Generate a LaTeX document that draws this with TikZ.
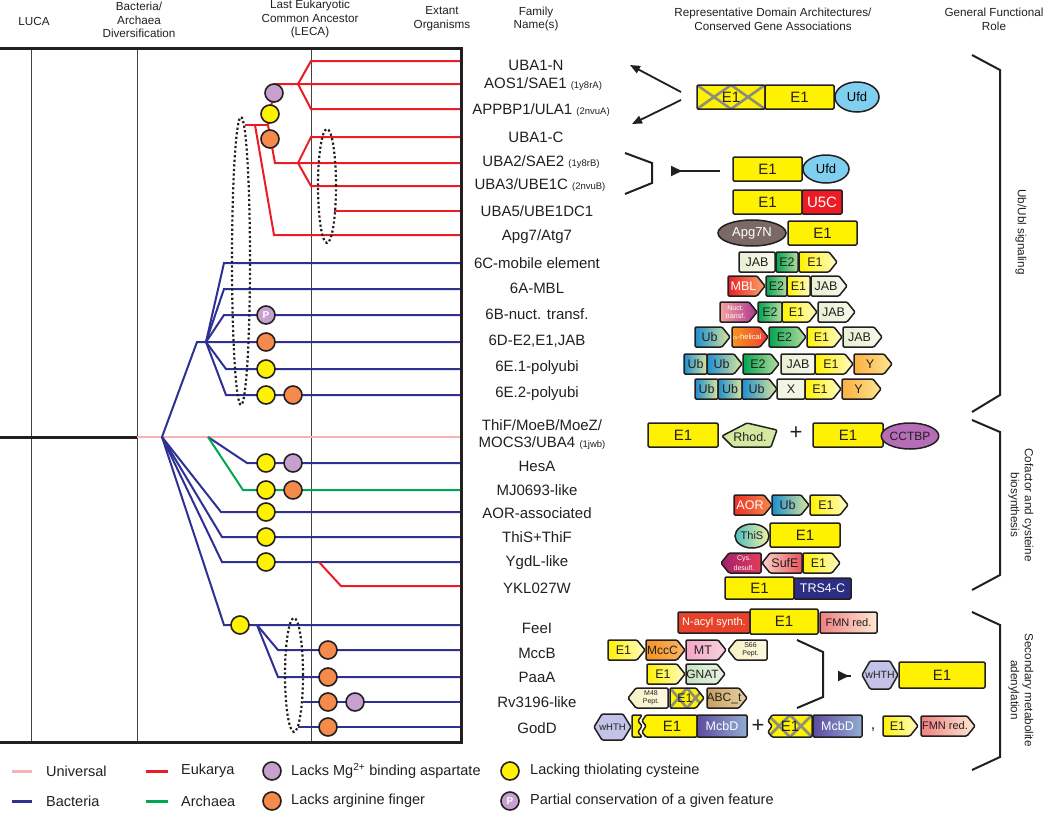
\documentclass[tikz,border=0pt]{standalone}
\usepackage{fontspec}
\setmainfont{Liberation Sans}
\usetikzlibrary{arrows.meta,shapes.geometric}
\definecolor{ink}{HTML}{231F20}
\definecolor{eu}{HTML}{ED1C24}
\definecolor{ba}{HTML}{2E3192}
\definecolor{ar}{HTML}{00A651}
\definecolor{un}{HTML}{F7B2B2}
\definecolor{yel}{HTML}{FFF200}
\definecolor{yelr}{HTML}{FFFBC8}
\definecolor{pur}{HTML}{C7A0CF}
\definecolor{ora}{HTML}{F58A4B}
\definecolor{ufd}{HTML}{7FCFF0}
\definecolor{apg}{HTML}{7B6A63}
\definecolor{jabl}{HTML}{E6F0D2}
\definecolor{jabr}{HTML}{F7FAEC}
\definecolor{e2l}{HTML}{00A651}
\definecolor{e2r}{HTML}{B8DDA0}
\definecolor{mbll}{HTML}{ED1C24}
\definecolor{mblr}{HTML}{F9A66C}
\definecolor{nucl}{HTML}{F4A3A0}
\definecolor{nucr}{HTML}{AD348F}
\definecolor{ubl}{HTML}{1B8FD2}
\definecolor{ubr}{HTML}{DCE59B}
\definecolor{ahl}{HTML}{F7941D}
\definecolor{ahr}{HTML}{EF4136}
\definecolor{yl}{HTML}{FBB040}
\definecolor{yr}{HTML}{FDE68F}
\definecolor{xc}{HTML}{F1F6E2}
\definecolor{aorl}{HTML}{EE3124}
\definecolor{aorr}{HTML}{F58A4B}
\definecolor{thsl}{HTML}{4FBFBF}
\definecolor{thsr}{HTML}{F2F0A0}
\definecolor{cysl}{HTML}{A3206B}
\definecolor{cysr}{HTML}{E23C5A}
\definecolor{sufl}{HTML}{FBD3C9}
\definecolor{sufr}{HTML}{E9545A}
\definecolor{trs}{HTML}{2B2E83}
\definecolor{nac}{HTML}{E8432A}
\definecolor{fmnl}{HTML}{F08080}
\definecolor{fmnr}{HTML}{FDE9D4}
\definecolor{mccl}{HTML}{F7941D}
\definecolor{mccr}{HTML}{F9B56B}
\definecolor{mtl}{HTML}{F4A6C3}
\definecolor{mtr}{HTML}{F9D3DF}
\definecolor{pept}{HTML}{F8F2C4}
\definecolor{peptr}{HTML}{FCF9E2}
\definecolor{gnl}{HTML}{C5E4C1}
\definecolor{gnr}{HTML}{E9F4E3}
\definecolor{abcl}{HTML}{C89F5E}
\definecolor{abcr}{HTML}{E8D2A6}
\definecolor{mcl}{HTML}{5B4C9E}
\definecolor{mcr}{HTML}{93ACD3}
\definecolor{wht}{HTML}{C3C3E8}
\definecolor{rhod}{HTML}{D4E8A0}
\definecolor{cct}{HTML}{B46DB6}
\definecolor{crossg}{HTML}{8C8C80}
\newcommand\bigf{\fontsize{15}{15}\selectfont}
\newcommand\tinyf{\fontsize{7}{7.5}\selectfont}
\newcommand\smf{\fontsize{9.5}{9.5}\selectfont}
\newcommand\wh{\color{white}}
\newcommand\twol[2]{{\tinyf\shortstack{#1\\#2}}}
\newcommand\rbx[7]{\path[dom,#6] (#2,#3) rectangle (#4,#5);\node[dtxt] (#1) at ({(#2+#4)/2},{(#3+#5)/2}) {#7};}
\newcommand\rbc[6]{\rbx{#1}{#2}{#4-10}{#3}{#4+10}{#5}{#6}}
\newcommand\pentR[6]{\path[dom,#5] (#2,#4-10) -- (#3-8,#4-10) -- (#3,#4) -- (#3-8,#4+10) -- (#2,#4+10) -- cycle;\node[dtxt] (#1) at ({(#2+#3-6)/2},#4) {#6};}
\newcommand\pentL[6]{\path[dom,#5] (#2,#4) -- (#2+8,#4-10) -- (#3,#4-10) -- (#3,#4+10) -- (#2+8,#4+10) -- cycle;\node[dtxt] (#1) at ({(#2+#3+6)/2},#4) {#6};}
\tikzset{
  tl/.style={line width=2pt},
  frm/.style={line width=3pt, draw=ink},
  vl/.style={line width=1pt, draw=ink!85},
  cir/.style={circle, draw=ink, line width=1.6pt, minimum size=18pt, inner sep=0pt},
  dots/.style={line width=2.2pt, dash pattern=on 2.2pt off 2.4pt, draw=ink},
  fam/.style={font=\fontsize{15}{17}\selectfont, inner sep=0pt, text=ink, align=center},
  hdr/.style={font=\fontsize{11.7}{13.8}\selectfont, align=center, inner sep=0pt, text=ink},
  dom/.style={draw=ink, line width=1.5pt, rounded corners=1.2pt},
  dtxt/.style={font=\fontsize{12.5}{12.5}\selectfont, inner sep=0pt, text=ink, align=center},
  arr/.style={line width=1.8pt, draw=ink, -{Triangle[length=10pt,width=8pt]}},
  brk/.style={line width=2pt, draw=ink},
  xg/.style={line width=2.6pt, draw=crossg},
  leg/.style={font=\fontsize{14.5}{14.5}\selectfont, anchor=west, inner sep=0pt, text=ink},
  dell/.style={ellipse, draw=ink, line width=1.5pt, inner sep=0pt},
  rl/.style={font=\fontsize{11.7}{14}\selectfont, align=center, inner sep=0pt, text=ink, rotate=-90},
}
\begin{document}
\begin{tikzpicture}[x=1pt,y=-1pt]
\useasboundingbox (0,0) rectangle (1050,814);
% headers
\node[hdr] (hluca) at (34,21) {LUCA};
\node[hdr] (hbad) at (139,20) {Bacteria/\\Archaea\\Diversification};
\node[hdr] (hleca) at (310,19) {Last Eukaryotic\\Common Ancestor\\(LECA)};
\node[hdr] (hext) at (442,19) {Extant\\Organisms};
\node[hdr] (hfam) at (536,19) {Family\\Name(s)};
\node[hdr] (hrep) at (773,19) {Representative Domain Architectures/\\Conserved Gene Associations};
\node[hdr] (hgen) at (994,19) {General Functional\\Role};
% frame
\draw[vl] (31,48) -- (31,742);
\draw[vl] (137,48) -- (137,742);
\draw[vl] (311,48) -- (311,742);
\draw[frm] (0,48) -- (461,48) -- (461,742) -- (0,742);
% root
\draw[line width=3pt, draw=ink] (0,437) -- (137,437);
\draw[un, line width=2.6pt] (137,437) -- (460,437);
% eukarya
\draw[eu,tl] (245,125) -- (268,125);
\draw[eu,tl] (268,125) -- (275,84) -- (460,84);
\draw[eu,tl] (298,84) -- (311,61) -- (460,61);
\draw[eu,tl] (298,84) -- (311,109) -- (460,109);
\draw[eu,tl] (268,125) -- (275,163) -- (460,163);
\draw[eu,tl] (298,163) -- (311,137) -- (460,137);
\draw[eu,tl] (298,163) -- (311,186) -- (460,186);
\draw[eu,tl] (334,211) -- (460,211);
\draw[eu,tl] (255,125) -- (274,235) -- (460,235);
% bacteria upper
\draw[ba,tl] (162,437) -- (197,342) -- (460,342);
\draw[ba,tl] (206,342) -- (224,263) -- (460,263);
\draw[ba,tl] (206,342) -- (224,289) -- (460,289);
\draw[ba,tl] (206,342) -- (224,315) -- (460,315);
\draw[ba,tl] (206,342) -- (226,369) -- (460,369);
\draw[ba,tl] (206,342) -- (226,395) -- (460,395);
% lower
\draw[ba,tl] (208,437) -- (247,463) -- (460,463);
\draw[ar,tl] (208,437) -- (243,490) -- (460,490);
\draw[ba,tl] (162,437) -- (221,512) -- (460,512);
\draw[ba,tl] (162,437) -- (222,537) -- (460,537);
\draw[ba,tl] (162,437) -- (222,562) -- (460,562);
\draw[eu,tl] (319,562) -- (341,586) -- (460,586);
\draw[ba,tl] (162,437) -- (224,625) -- (460,625);
\draw[ba,tl] (257,625) -- (278,650) -- (460,650);
\draw[ba,tl] (257,625) -- (278,677) -- (460,677);
\draw[ba,tl] (303,702) -- (460,702);
\draw[ba,tl] (298,727) -- (460,727);
% dotted ellipses
\draw[dots] (241,261) ellipse [x radius=9pt, y radius=144pt];
\draw[dots] (327,186) ellipse [x radius=9pt, y radius=57pt];
\draw[dots] (294,675) ellipse [x radius=9pt, y radius=57pt];
% circles
\node[cir, fill=pur] (c1) at (274,93) {};
\node[cir, fill=yel] (c2) at (270,114) {};
\node[cir, fill=ora] (c3) at (270,139) {};
\node[cir, fill=pur, text=white, font=\bfseries\fontsize{10}{10}\selectfont] (c4) at (266,315) {P};
\node[cir, fill=ora] (c5) at (266,342) {};
\node[cir, fill=yel] (c6) at (266,369) {};
\node[cir, fill=yel] (c7) at (266,395) {};
\node[cir, fill=ora] (c8) at (293,395) {};
\node[cir, fill=yel] (c9) at (266,463) {};
\node[cir, fill=pur] (c10) at (293,463) {};
\node[cir, fill=yel] (c11) at (266,490) {};
\node[cir, fill=ora] (c12) at (293,490) {};
\node[cir, fill=yel] (c13) at (266,512) {};
\node[cir, fill=yel] (c14) at (266,537) {};
\node[cir, fill=yel] (c15) at (266,562) {};
\node[cir, fill=yel] (c16) at (240,625) {};
\node[cir, fill=ora] (c17) at (328,650) {};
\node[cir, fill=ora] (c18) at (328,677) {};
\node[cir, fill=ora] (c19) at (328,702) {};
\node[cir, fill=pur] (c20) at (355,702) {};
\node[cir, fill=ora] (c21) at (328,727) {};
% family names
\node[fam] (f1) at (536,65) {UBA1-N};
\node[fam] (f2) at (543,84) {AOS1/SAE1 {\smf(1y8rA)}};
\node[fam] (f3) at (541,110) {APPBP1/ULA1 {\smf(2nvuA)}};
\node[fam] (f4) at (536,137) {UBA1-C};
\node[fam] (f5) at (541,162) {UBA2/SAE2 {\smf(1y8rB)}};
\node[fam] (f6) at (540,185) {UBA3/UBE1C {\smf(2nvuB)}};
\node[fam] (f7) at (537,211) {UBA5/UBE1DC1};
\node[fam] (f8) at (537,237) {Apg7/Atg7};
\node[fam] (f9) at (537,263) {6C-mobile element};
\node[fam] (f10) at (537,288) {6A-MBL};
\node[fam] (f11) at (537,314) {6B-nuct. transf.};
\node[fam] (f12) at (537,341) {6D-E2,E1,JAB};
\node[fam] (f13) at (537,368) {6E.1-polyubi};
\node[fam] (f14) at (537,394) {6E.2-polyubi};
\node[fam] (f15) at (542,435) {ThiF/MoeB/MoeZ/\\MOCS3/UBA4 {\smf(1jwb)}};
\node[fam] (f16) at (537,466) {HesA};
\node[fam] (f17) at (537,490) {MJ0693-like};
\node[fam] (f18) at (537,513) {AOR-associated};
\node[fam] (f19) at (537,537) {ThiS+ThiF};
\node[fam] (f20) at (537,563) {YgdL-like};
\node[fam] (f21) at (537,588) {YKL027W};
\node[fam] (f22) at (537,628) {FeeI};
\node[fam] (f23) at (537,653) {MccB};
\node[fam] (f24) at (537,677) {PaaA};
\node[fam] (f25) at (537,702) {Rv3196-like};
\node[fam] (f26) at (537,728) {GodD};
% arrows and brackets (top)
\coordinate (a1s) at (681,92); \coordinate (a1e) at (630,65);
\coordinate (a2s) at (681,100); \coordinate (a2e) at (632,124);
\draw[arr] (a1s) -- (a1e);
\draw[arr] (a2s) -- (a2e);
\draw[brk] (625,153) -- (652,163) -- (652,183) -- (625,194);
\coordinate (a3s) at (671,171); \coordinate (a3e) at (720,171);
\draw[line width=1.8pt, draw=ink, {Triangle[reversed,length=11pt,width=10pt]}-] (a3s) -- (a3e);
% top domain rows
\path[fill=yel] (697,85) rectangle (765,109);
\begin{scope}
\clip (697,85) rectangle (765,109);
\draw[xg] (697,85) -- (731,109) (697,109) -- (731,85) (731,85) -- (765,109) (731,109) -- (765,85);
\end{scope}
\rbx{e1x}{697}{85}{765}{109}{}{\bigf E1}
\rbx{e1a}{765}{85}{834}{109}{fill=yel}{\bigf E1}
\node[dell, fill=ufd, minimum width=44pt, minimum height=30pt, font=\fontsize{13}{13}\selectfont] (ufd1) at (857,97) {Ufd};
\rbx{e1b}{733}{157}{802}{181}{fill=yel}{\bigf E1}
\node[dell, fill=ufd, minimum width=46pt, minimum height=28pt, font=\fontsize{13}{13}\selectfont] (ufd2) at (826,169) {Ufd};
\rbx{e1c}{733}{190}{802}{214}{fill=yel}{\bigf E1}
\rbx{u5c}{802}{190}{842}{214}{fill=eu}{\wh\bigf U5C}
\node[dell, fill=apg, minimum width=68pt, minimum height=26pt, text=white, font=\fontsize{13}{13}\selectfont] (apg) at (752,233) {Apg7N};
\rbx{e1d}{788}{221}{857}{245}{fill=yel}{\bigf E1}
% 6C
\rbc{jab1}{739}{775}{262}{left color=jabl,right color=jabr}{JAB}
\rbc{e2a}{776}{798}{262}{left color=e2l,right color=e2r}{E2}
\pentR{e1e}{799}{837}{262}{left color=yel,right color=yelr}{E1}
% 6A
\pentR{mbl}{728}{765}{286}{left color=mbll,right color=mblr}{\wh MBL}
\rbc{e2b}{766}{787}{286}{left color=e2l,right color=e2r}{E2}
\rbc{e1f}{787}{810}{286}{left color=yel,right color=yelr}{E1}
\pentR{jab2}{811}{847}{286}{left color=jabl,right color=jabr}{JAB}
% 6B
\pentR{nuc}{720}{757}{312}{left color=nucl,right color=nucr}{\wh\twol{Nuct.}{transf.}}
\rbc{e2c}{758}{782}{312}{left color=e2l,right color=e2r}{E2}
\pentR{e1g}{782}{817}{312}{left color=yel,right color=yelr}{E1}
\pentR{jab3}{818}{855}{312}{left color=jabl,right color=jabr}{JAB}
% 6D
\pentR{ub1}{695}{730}{337}{left color=ubl,right color=ubr}{Ub}
\pentR{ahel}{732}{768}{337}{left color=ahl,right color=ahr}{\wh\fontsize{7.5}{8}\selectfont $\alpha$-helical}
\pentR{e2d}{769}{806}{337}{left color=e2l,right color=e2r}{E2}
\pentR{e1h}{807}{842}{337}{left color=yel,right color=yelr}{E1}
\pentR{jab4}{843}{882}{337}{left color=jabl,right color=jabr}{JAB}
% 6E.1
\rbc{ub2}{684}{707}{364}{left color=ubl,right color=ubr}{Ub}
\pentR{ub3}{707}{742}{364}{left color=ubl,right color=ubr}{Ub}
\pentR{e2e}{743}{779}{364}{left color=e2l,right color=e2r}{E2}
\rbc{jab5}{781}{815}{364}{left color=jabl,right color=jabr}{JAB}
\pentR{e1i}{815}{853}{364}{left color=yel,right color=yelr}{E1}
\pentR{y1}{854}{892}{364}{left color=yl,right color=yr}{Y}
% 6E.2
\rbc{ub4}{695}{718}{389}{left color=ubl,right color=ubr}{Ub}
\rbc{ub5}{718}{742}{389}{left color=ubl,right color=ubr}{Ub}
\pentR{ub6}{742}{777}{389}{left color=ubl,right color=ubr}{Ub}
\rbc{xx}{777}{805}{389}{fill=xc}{X}
\pentR{e1j}{805}{841}{389}{left color=yel,right color=yelr}{E1}
\pentR{y2}{842}{881}{389}{left color=yl,right color=yr}{Y}
% ThiF
\rbx{e1k}{648}{423}{718}{447}{fill=yel}{\bigf E1}
\path[dom, fill=rhod] (722,436) -- (747,423) -- (777,430) -- (771,447) -- (733,447) -- cycle;
\node[dtxt] (rhodt) at (750,437) {Rhod.};
\node[font=\fontsize{22}{22}\selectfont, text=ink, inner sep=0pt] (plus1) at (796,433) {+};
\rbx{e1l}{813}{423}{883}{447}{fill=yel}{\bigf E1}
\node[dell, fill=cct, minimum width=54pt, minimum height=26pt, font=\fontsize{12}{12}\selectfont, text=ink] (cctbp) at (910,436) {CCTBP};
% AOR
\pentR{aor}{734}{772}{505}{left color=aorl,right color=aorr}{\wh AOR}
\pentR{ub7}{772}{809}{505}{left color=ubl,right color=ubr}{Ub}
\pentR{e1m}{810}{848}{505}{left color=yel,right color=yelr}{E1}
% ThiS
\node[dell, left color=thsl, right color=thsr, minimum width=34pt, minimum height=24pt, font=\fontsize{11}{11}\selectfont, text=ink] (this) at (752,536) {ThiS};
\rbx{e1n}{770}{523}{840}{547}{fill=yel}{\bigf E1}
% YgdL
\pentL{cys}{721}{761}{563}{left color=cysl,right color=cysr}{\wh\twol{Cys.}{desulf.}}
\pentL{sufe}{762}{802}{563}{left color=sufl,right color=sufr}{SufE}
\pentR{e1o}{803}{840}{563}{left color=yel,right color=yelr}{E1}
% YKL027W
\rbx{e1p}{725}{577}{794}{599}{fill=yel}{\bigf E1}
\rbx{trs4}{794}{578}{851}{599}{fill=trs}{\wh TRS4-C}
% FeeI
\rbx{nacyl}{678}{612}{750}{633}{fill=nac}{\wh\fontsize{11}{11}\selectfont N-acyl synth.}
\rbx{e1q}{750}{609}{818}{634}{fill=yel}{\bigf E1}
\rbx{fmn1}{820}{612}{877}{633}{left color=fmnl,right color=fmnr}{\fontsize{11}{11}\selectfont FMN red.}
% MccB
\pentR{e1r}{608}{645}{650}{left color=yel,right color=yelr}{E1}
\pentR{mccc}{646}{685}{650}{left color=mccl,right color=mccr}{\fontsize{12}{12}\selectfont MccC}
\pentR{mt}{686}{726}{650}{left color=mtl,right color=mtr}{MT}
\pentL{s66}{728}{767}{650}{left color=pept,right color=peptr}{\twol{S66}{Pept.}}
% PaaA
\pentR{e1s}{647}{685}{674}{left color=yel,right color=yelr}{E1}
\pentR{gnat}{686}{725}{674}{left color=gnl,right color=gnr}{\fontsize{12}{12}\selectfont GNAT}
% Rv3196
\pentL{m48}{628}{668}{698}{left color=pept,right color=peptr}{\twol{M48}{Pept.}}
\path[fill=yel] (670,688) -- (696,688) -- (704,698) -- (696,708) -- (670,708) -- cycle;
\begin{scope}
\clip (670,688) -- (696,688) -- (704,698) -- (696,708) -- (670,708) -- cycle;
\draw[xg] (670,688) -- (687,708) (670,708) -- (687,688) (687,688) -- (704,708) (687,708) -- (704,688);
\end{scope}
\path[dom] (670,688) -- (696,688) -- (704,698) -- (696,708) -- (670,708) -- cycle;
\node[dtxt] (e1t) at (685,698) {E1};
\pentR{abc}{707}{747}{698}{left color=abcl,right color=abcr}{\fontsize{12}{12}\selectfont ABC\_t}
% bracket secondary
\draw[brk] (797,640) -- (823,652) -- (823,697) -- (797,708);
\coordinate (a4s) at (838,676); \coordinate (a4e) at (851,676);
\draw[line width=1.8pt, draw=ink, {Triangle[reversed,length=11pt,width=10pt]}-] (a4s) -- (a4e);
\path[dom, fill=wht] (862,675) -- (870,661) -- (890,661) -- (898,675) -- (890,689) -- (870,689) -- cycle;
\node[dtxt, font=\fontsize{10.5}{10.5}\selectfont] (wh1) at (880,675) {wHTH};
\rbx{e1u}{899}{662}{985}{688}{fill=yel}{\bigf E1}
% GodD
\path[dom, fill=wht] (594,727) -- (602,714) -- (623,714) -- (631,727) -- (623,740) -- (602,740) -- cycle;
\node[dtxt, font=\fontsize{9.5}{9.5}\selectfont] (wh2) at (612.5,727) {wHTH};
\path[dom, fill=yel] (632,715) -- (642,715) -- (638,721) -- (642,726) -- (638,732) -- (642,737) -- (632,737) -- cycle;
\path[dom, fill=yel] (646,715) -- (697,715) -- (697,737) -- (646,737) -- (642,732) -- (646,726) -- (642,721) -- cycle;
\node[dtxt] (e1v) at (672,726) {\bigf E1};
\rbx{mcbd1}{697}{715}{747}{737}{left color=mcl,right color=mcr}{\wh McbD}
\node[font=\fontsize{22}{22}\selectfont, text=ink, inner sep=0pt] (plus2) at (758,726) {+};
\path[fill=yel] (772,715) -- (812,715) -- (812,737) -- (772,737) -- (768,732) -- (772,726) -- (768,721) -- cycle;
\begin{scope}
\clip (772,715) -- (812,715) -- (812,737) -- (772,737) -- (768,732) -- (772,726) -- (768,721) -- cycle;
\draw[xg] (768,715) -- (790,737) (768,737) -- (790,715) (790,715) -- (812,737) (790,737) -- (812,715);
\end{scope}
\path[dom] (772,715) -- (812,715) -- (812,737) -- (772,737) -- (768,732) -- (772,726) -- (768,721) -- cycle;
\node[dtxt] (e1w) at (790,726) {\bigf E1};
\rbx{mcbd2}{813}{715}{862}{737}{left color=mcl,right color=mcr}{\wh McbD}
\node[font=\fontsize{16}{16}\selectfont, text=ink, inner sep=0pt] (comma) at (873,730) {,};
\pentR{e1x2}{883}{918}{726}{left color=yel,right color=yelr}{E1}
\pentR{fmn2}{921}{975}{726}{left color=fmnl,right color=fmnr}{\fontsize{11}{11}\selectfont FMN red.}
% right braces
\draw[brk] (972,55) -- (1000,70) -- (1000,395) -- (972,412);
\draw[brk] (972,420) -- (1000,432) -- (1000,575) -- (972,590);
\draw[brk] (972,612) -- (1000,625) -- (1000,757) -- (972,770);
\node[rl] (lub) at (1021,232) {Ub/Ubl signaling};
\node[rl] (lcof) at (1021,505) {Cofactor and cysteine\\biosynthesis};
\node[rl] (lsec) at (1021,690) {Secondary metabolite\\adenylation};
% legend
\draw[un, line width=3pt] (12,771) -- (32,771);
\node[leg] (lg1) at (46,771) {Universal};
\draw[eu, line width=3pt] (146,771) -- (168,771);
\node[leg] (lg2) at (181,771) {Eukarya};
\node[cir, fill=pur] (lc1) at (272,771) {};
\node[leg] (lg3) at (291,771) {Lacks Mg\textsuperscript{2+} binding aspartate};
\node[cir, fill=yel] (lc2) at (510,771) {};
\node[leg] (lg4) at (530,771) {Lacking thiolating cysteine};
\draw[ba, line width=3pt] (12,801) -- (32,801);
\node[leg] (lg5) at (46,801) {Bacteria};
\draw[ar, line width=3pt] (146,801) -- (168,801);
\node[leg] (lg6) at (181,801) {Archaea};
\node[cir, fill=ora] (lc3) at (272,801) {};
\node[leg] (lg7) at (291,801) {Lacks arginine finger};
\node[cir, fill=pur, text=white, font=\bfseries\fontsize{10}{10}\selectfont] (lc4) at (510,801) {P};
\node[leg] (lg8) at (530,801) {Partial conservation of a given feature};
\end{tikzpicture}
\end{document}
